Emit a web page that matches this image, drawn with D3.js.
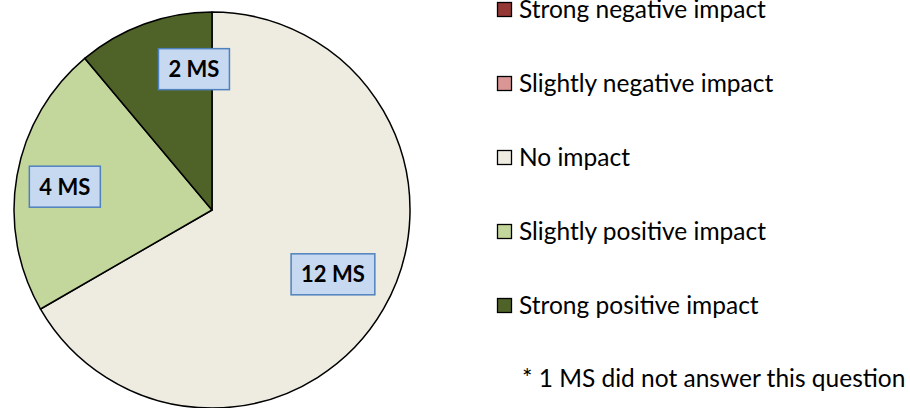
<!DOCTYPE html>
<html>
<head>
<meta charset="utf-8">
<script src="https://cdn.jsdelivr.net/npm/d3@7"></script>
<style>
  html, body { margin: 0; padding: 0; background: #fff; }
  svg { display: block; font-family: Lato, "Open Sans", sans-serif; }
</style>
</head>
<body>
<div id="chart"></div>
<script>
// data
var categories = ["Strong negative impact", "Slightly negative impact", "No impact",
                  "Slightly positive impact", "Strong positive impact"];
var values = [0, 0, 12, 4, 2];
var colors = ["#953735", "#D99694", "#EEECE1", "#C3D69B", "#4F6228"];
var footnote = "* 1 MS did not answer this question";

// where each data label box sits (angle in degrees from top, distance from centre)
var labelAngle = {2: 118, 3: 279, 4: 352.7};
var labelDist = {2: 137, 3: 149, 4: 142};

var W = 910, H = 408;
var cx = 212, cy = 210, R = 198;

var svg = d3.select('#chart').append('svg')
    .attr('width', W).attr('height', H);

var pie = d3.pie().sort(null).value(function(d) { return d.value; });
var rows = categories.map(function(c, i) { return {name: c, value: values[i], color: colors[i], i: i}; });
var arcs = pie(rows);
var arc = d3.arc().innerRadius(0).outerRadius(R);

var g = svg.append('g').attr('transform', 'translate(' + cx + ',' + cy + ')');

g.selectAll('path.slice')
  .data(arcs.filter(function(a) { return a.data.value > 0; }))
  .enter().append('path')
    .attr('class', 'slice')
    .attr('d', arc)
    .attr('fill', function(a) { return a.data.color; })
    .attr('stroke', '#000')
    .attr('stroke-width', 1.5)
    .attr('stroke-linejoin', 'round');

// data labels in boxes
arcs.filter(function(a) { return a.data.value > 0; }).forEach(function(a) {
  var ang = labelAngle[a.data.i] * Math.PI / 180;
  var d = labelDist[a.data.i];
  var x = Math.sin(ang) * d, y = -Math.cos(ang) * d;
  var lg = g.append('g').attr('transform', 'translate(' + x + ',' + y + ')');
  var rect = lg.append('rect');
  var t = lg.append('text')
      .attr('text-anchor', 'middle')
      .attr('dy', '0.36em')
      .attr('font-size', 22)
      .attr('font-weight', 'bold')
      .attr('fill', '#000')
      .text(a.data.value + ' MS');
  var w = t.node().getComputedTextLength() + 20;
  rect.attr('x', -w / 2).attr('y', -20.5).attr('width', w).attr('height', 41)
      .attr('fill', '#C6D9F1').attr('stroke', '#4F81BD').attr('stroke-width', 1.5);
});

// legend
var legY = d3.scalePoint().domain(categories).range([9.5, 305.5]);
var leg = svg.append('g');
var items = leg.selectAll('g.item').data(rows).enter().append('g')
    .attr('class', 'item')
    .attr('transform', function(d) { return 'translate(497,' + legY(d.name) + ')'; });
items.append('rect')
    .attr('x', 0.5).attr('y', -7).attr('width', 14).attr('height', 14)
    .attr('fill', function(d) { return d.color; })
    .attr('stroke', '#000').attr('stroke-width', 1.3);
items.append('text')
    .attr('x', 22).attr('dy', '0.36em')
    .attr('font-size', 24.5)
    .attr('fill', '#000')
    .text(function(d) { return d.name; });

svg.append('text')
    .attr('x', 522).attr('y', 378).attr('dy', '0.36em')
    .attr('font-size', 24.5)
    .attr('fill', '#000')
    .text(footnote);
</script>
</body>
</html>
